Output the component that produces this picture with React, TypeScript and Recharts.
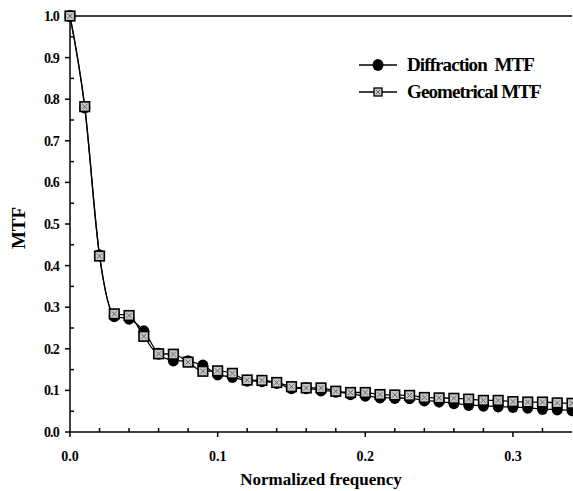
import React from 'react';
import { ComposedChart, Line, Scatter, XAxis, YAxis, Legend } from 'recharts';

const frequency = [
  0.0, 0.01, 0.02, 0.03, 0.04, 0.05, 0.06, 0.07, 0.08, 0.09,
  0.1, 0.11, 0.12, 0.13, 0.14, 0.15, 0.16, 0.17, 0.18, 0.19,
  0.2, 0.21, 0.22, 0.23, 0.24, 0.25, 0.26, 0.27, 0.28, 0.29,
  0.3, 0.31, 0.32, 0.33, 0.34,
];

const diffractionMTF = [
  1.0, 0.78, 0.425, 0.278, 0.272, 0.242, 0.188, 0.172, 0.17, 0.16,
  0.138, 0.132, 0.123, 0.122, 0.118, 0.105, 0.105, 0.1, 0.097, 0.091,
  0.087, 0.083, 0.082, 0.081, 0.076, 0.073, 0.069, 0.065, 0.063, 0.061,
  0.06, 0.058, 0.055, 0.054, 0.052,
];

const geometricalMTF = [
  1.0, 0.782, 0.423, 0.284, 0.28, 0.23, 0.188, 0.187, 0.168, 0.146,
  0.147, 0.141, 0.125, 0.124, 0.119, 0.109, 0.106, 0.106, 0.098, 0.095,
  0.095, 0.09, 0.089, 0.088, 0.083, 0.082, 0.081, 0.079, 0.076, 0.076,
  0.073, 0.072, 0.072, 0.07, 0.069,
];

const xMajorTicks = [0, 0.1, 0.2, 0.3];
const xMinorTicks = [0.02, 0.04, 0.06, 0.08, 0.12, 0.14, 0.16, 0.18, 0.22, 0.24, 0.26, 0.28, 0.32];
const yMajorTicks = [0, 0.1, 0.2, 0.3, 0.4, 0.5, 0.6, 0.7, 0.8, 0.9, 1.0];
const yMinorTicks = [0.05, 0.15, 0.25, 0.35, 0.45, 0.55, 0.65, 0.75, 0.85, 0.95];

const seriesNames = ['Diffraction  MTF', 'Geometrical MTF'];

const X_MAX = 0.34;
const Y_MAX = 1;

const data = frequency.map((f, i) => ({
  f,
  diffraction: diffractionMTF[i],
  geometrical: geometricalMTF[i],
}));

const xMinorPts = xMinorTicks.map((t) => ({ f: t, v: 0 }));
const yMinorPts = yMinorTicks.map((t) => ({ f: 0, v: t }));

const FONT = '"Liberation Serif", "Times New Roman", serif';

const CircleDot = (props: any) => {
  const { cx, cy } = props;
  if (cx == null || cy == null) return null;
  return <ellipse cx={cx} cy={cy} rx={5.5} ry={6} fill="#000" />;
};

const SquareDot = (props: any) => {
  const { cx, cy } = props;
  if (cx == null || cy == null) return null;
  const s = 4.8;
  return (
    <g>
      <rect x={cx - s} y={cy - s} width={2 * s} height={2 * s} fill="#c4c4c4" stroke="#000" strokeWidth={1.6} />
      <line x1={cx - 2.5} y1={cy - 2.5} x2={cx + 2.5} y2={cy + 2.5} stroke="#6a6a6a" strokeWidth={1} />
      <line x1={cx - 2.5} y1={cy + 2.5} x2={cx + 2.5} y2={cy - 2.5} stroke="#6a6a6a" strokeWidth={1} />
    </g>
  );
};

const tickShape = (dx2: number, dy2: number) => (props: any) => {
  const { cx, cy } = props;
  if (cx == null || cy == null) return <g />;
  return <line x1={cx} y1={cy} x2={cx + dx2} y2={cy + dy2} stroke="#000" strokeWidth={1.5} />;
};

const EmptyTick = () => <g />;

const LegendContent = () => {
  const rows = [
    { name: seriesNames[0], kind: 'circle' },
    { name: seriesNames[1], kind: 'square' },
  ];
  return (
    <div style={{ fontFamily: FONT }}>
      {rows.map((r) => (
        <div key={r.name} style={{ display: 'flex', alignItems: 'center', height: 27 }}>
          <svg width={50} height={20} style={{ display: 'block' }}>
            <line x1={2} y1={10} x2={40} y2={10} stroke="#000" strokeWidth={1.3} />
            {r.kind === 'circle' ? (
              <ellipse cx={21} cy={10} rx={5.5} ry={6} fill="#000" />
            ) : (
              <g>
                <rect x={17} y={6} width={8} height={8} fill="#c4c4c4" stroke="#000" strokeWidth={1.3} />
                <line x1={19} y1={8} x2={23} y2={12} stroke="#6a6a6a" strokeWidth={1} />
                <line x1={19} y1={12} x2={23} y2={8} stroke="#6a6a6a" strokeWidth={1} />
              </g>
            )}
          </svg>
          <span style={{ fontSize: 19, fontWeight: 'bold', letterSpacing: -0.9, whiteSpace: 'pre', color: '#000' }}>
            {r.name}
          </span>
        </div>
      ))}
    </div>
  );
};

const YLabel = (props: any) => {
  const vb = props.viewBox || {};
  const cx = 18;
  const cy = (vb.y ?? 16) + (vb.height ?? 416) / 2 + 4;
  return (
    <text
      x={cx}
      y={cy}
      transform={`rotate(-90, ${cx}, ${cy})`}
      textAnchor="middle"
      dominantBaseline="central"
      fontFamily={FONT}
      fontWeight="bold"
      fontSize={19}
      fill="#000"
    >
      MTF
    </text>
  );
};

export default function App() {
  const tickStyle = { fontFamily: FONT, fontWeight: 'bold' as const, fontSize: 14, fill: '#000' };
  return (
    <div style={{ position: 'absolute', left: 0, top: 0, width: 573, height: 491, background: '#fff' }}>
      <ComposedChart width={573} height={491} data={data} margin={{ top: 15, right: 1, bottom: 0, left: 0 }}>
        <XAxis
          dataKey="f"
          type="number"
          domain={[0, X_MAX]}
          ticks={xMajorTicks}
          interval={0}
          tickFormatter={(v: number) => v.toFixed(1)}
          tick={tickStyle}
          tickLine={{ stroke: '#000', strokeWidth: 1.5 }}
          tickSize={5}
          tickMargin={14}
          height={59}
          axisLine={{ stroke: '#000', strokeWidth: 1.5 }}
          label={{
            value: 'Normalized frequency',
            position: 'insideBottom',
            offset: 6,
            style: { fontFamily: FONT, fontWeight: 'bold', fontSize: 17, fill: '#000' },
          }}
        />
        <XAxis
          xAxisId="top"
          orientation="top"
          dataKey="f"
          type="number"
          domain={[0, X_MAX]}
          ticks={[X_MAX]}
          tick={<EmptyTick />}
          tickLine={false}
          axisLine={{ stroke: '#000', strokeWidth: 1.3 }}
          height={1}
        />
        <YAxis
          type="number"
          domain={[0, Y_MAX]}
          ticks={yMajorTicks}
          interval={0}
          tickFormatter={(v: number) => v.toFixed(1)}
          tick={{ ...tickStyle, fontSize: 14, letterSpacing: -0.8 }}
          tickLine={{ stroke: '#000', strokeWidth: 1.5 }}
          tickSize={5}
          tickMargin={6}
          width={70}
          axisLine={{ stroke: '#000', strokeWidth: 1.5 }}
          label={<YLabel />}
        />
        <Legend
          layout="vertical"
          align="center"
          verticalAlign="middle"
          content={<LegendContent />}
          wrapperStyle={{ position: 'absolute', left: 357, top: 51, width: 210 }}
        />
        <Scatter data={xMinorPts} dataKey="v" shape={tickShape(0, -4)} isAnimationActive={false} legendType="none" />
        <Scatter data={yMinorPts} dataKey="v" shape={tickShape(4, 0)} isAnimationActive={false} legendType="none" />
        <Line
          type="monotone"
          dataKey="diffraction"
          name={seriesNames[0]}
          stroke="#000"
          strokeWidth={1.3}
          dot={<CircleDot />}
          isAnimationActive={false}
        />
        <Line
          type="monotone"
          dataKey="geometrical"
          name={seriesNames[1]}
          stroke="#000"
          strokeWidth={1.3}
          dot={<SquareDot />}
          isAnimationActive={false}
        />
      </ComposedChart>
    </div>
  );
}
